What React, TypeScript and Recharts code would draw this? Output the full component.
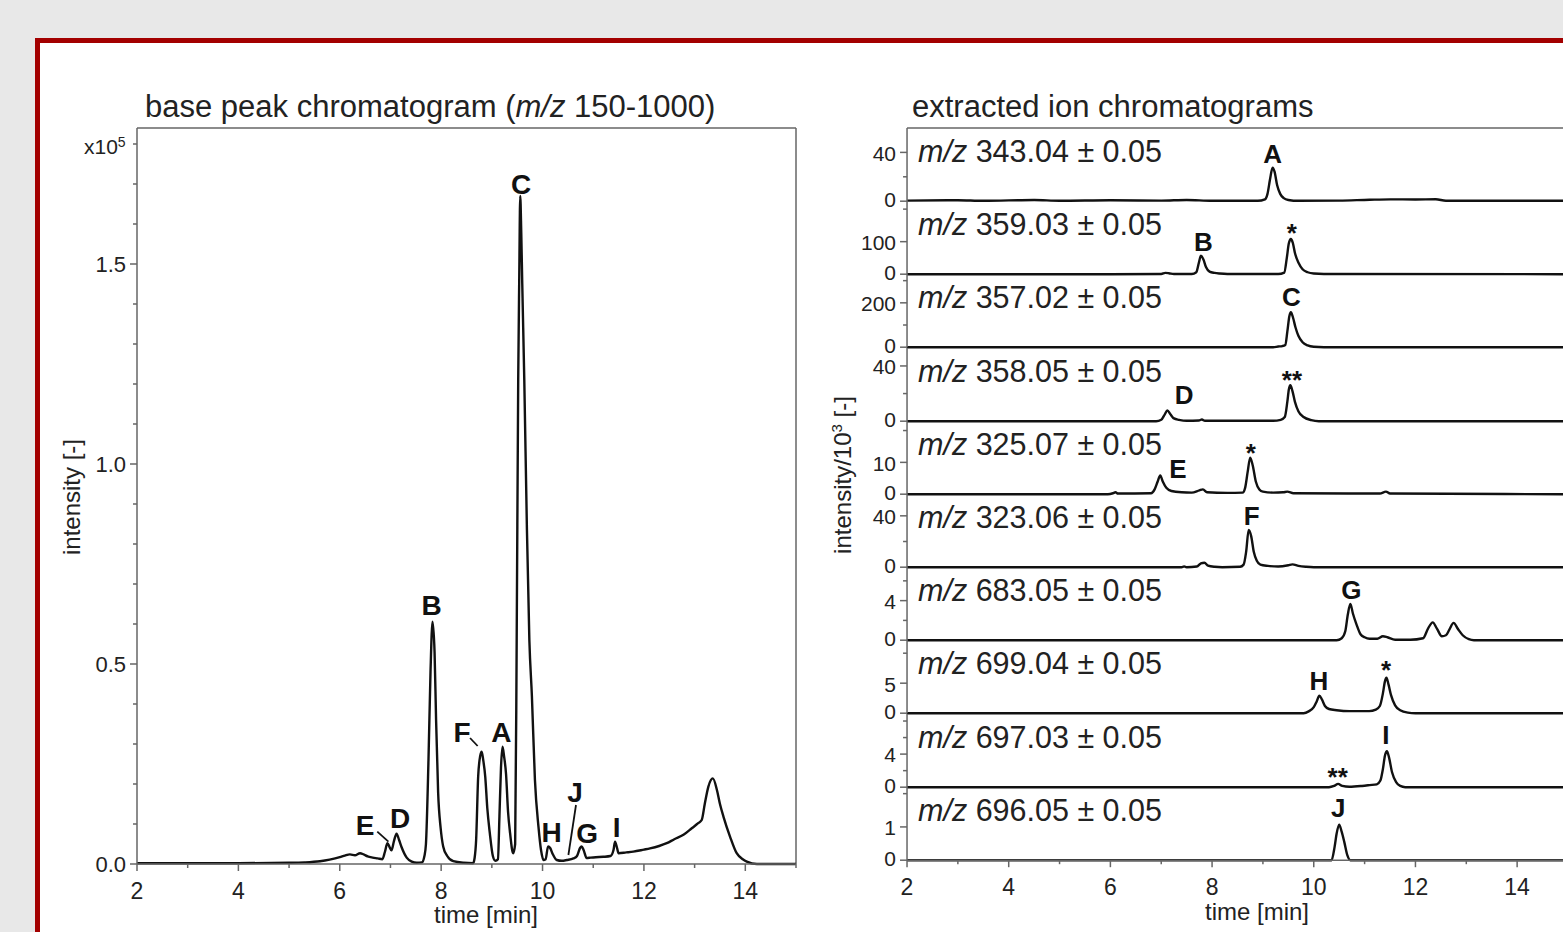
import { LineChart, Line, XAxis, YAxis, ReferenceLine, ReferenceDot } from "recharts";

const FONT = "'Liberation Sans', Arial, Helvetica, sans-serif";
const INK = "#111";
const AXIS = "#666";
const TICK = 7;
const GAP = 4;

// ---- base peak chromatogram (intensity x10^5) ----
const bpcTime = [
  2.0, 3.0, 4.0, 5.0, 5.3, 5.61, 5.8, 6.0, 6.1, 6.2, 6.3, 6.4, 6.47, 6.55, 6.65, 6.75, 6.84, 6.89, 6.94, 6.98,
  7.02, 7.07, 7.12, 7.17, 7.22, 7.32, 7.42, 7.52, 7.62, 7.67, 7.7, 7.75, 7.79, 7.83, 7.87, 7.9, 7.94, 7.99, 8.04,
  8.12, 8.24, 8.44, 8.63, 8.66, 8.69, 8.73, 8.77, 8.8, 8.83, 8.87, 8.91, 8.96, 9.02, 9.07, 9.12, 9.15, 9.18, 9.21,
  9.24, 9.28, 9.32, 9.36, 9.42, 9.46, 9.49, 9.52, 9.54, 9.56, 9.58, 9.6, 9.64, 9.69, 9.74, 9.79, 9.85, 9.92, 9.97,
  10.02, 10.06, 10.11, 10.15, 10.2, 10.28, 10.38, 10.48, 10.61, 10.68, 10.74, 10.77, 10.81, 10.87, 10.95, 11.05,
  11.2, 11.34, 11.4, 11.43, 11.47, 11.5, 11.65, 11.79, 12.0, 12.12, 12.3, 12.45, 12.6, 12.78, 12.95, 13.07, 13.14,
  13.2, 13.27, 13.36, 13.44, 13.5, 13.57, 13.7, 13.83, 13.95, 14.03, 14.23, 15.0,
];
const bpcIntensity = [
  0.002, 0.002, 0.002, 0.003, 0.004, 0.007, 0.011, 0.017, 0.021, 0.024, 0.022, 0.027, 0.024, 0.019, 0.016, 0.014,
  0.012, 0.03, 0.052, 0.043, 0.034, 0.058, 0.076, 0.06, 0.042, 0.016, 0.006, 0.003, 0.004, 0.02, 0.05, 0.26, 0.48,
  0.606, 0.53, 0.36, 0.18, 0.09, 0.044, 0.02, 0.007, 0.003, 0.002, 0.015, 0.06, 0.218, 0.27, 0.281, 0.26, 0.218,
  0.14, 0.077, 0.02, 0.008, 0.012, 0.12, 0.24, 0.293, 0.27, 0.225, 0.13, 0.077, 0.027, 0.05, 0.56, 1.21, 1.46, 1.67,
  1.58, 1.45, 1.21, 0.85, 0.56, 0.42, 0.21, 0.093, 0.035, 0.01, 0.012, 0.044, 0.04, 0.025, 0.01, 0.008, 0.01,
  0.014, 0.02, 0.04, 0.044, 0.035, 0.015, 0.016, 0.017, 0.018, 0.02, 0.035, 0.056, 0.04, 0.027, 0.029, 0.031,
  0.036, 0.039, 0.045, 0.052, 0.062, 0.073, 0.09, 0.102, 0.11, 0.15, 0.193, 0.214, 0.185, 0.15, 0.118, 0.068,
  0.027, 0.012, 0.006, 0.0, 0.0,
];
const bpcYTicks = [0, 0.1, 0.2, 0.3, 0.4, 0.5, 0.6, 0.7, 0.8, 0.9, 1.0, 1.1, 1.2, 1.3, 1.4, 1.5, 1.6, 1.7, 1.8];
const bpcYLabels = [0, 0.5, 1.0, 1.5];
const bpcPeakName = ["C", "B", "F", "A", "E", "D", "H", "J", "G", "I"];
const bpcPeakTime = [9.575, 7.81, 8.41, 9.19, 6.5, 7.19, 10.18, 10.64, 10.88, 11.46];
const bpcPeakLevel = [1.675, 0.6225, 0.306, 0.306, 0.0725, 0.089, 0.056, 0.156, 0.052, 0.068];
const bpcLeaderFrom = [[8.57, 0.315], [6.74, 0.081], [10.66, 0.1475]];
const bpcLeaderTo = [[8.72, 0.295], [6.96, 0.056], [10.51, 0.0225]];

const timeTicks = [2, 3, 4, 5, 6, 7, 8, 9, 10, 11, 12, 13, 14, 15];
const timeLabels = [2, 4, 6, 8, 10, 12, 14];

// ---- extracted ion chromatograms (intensity / 10^3) ----
const eicMass = ["343.04", "359.03", "357.02", "358.05", "325.07", "323.06", "683.05", "699.04", "697.03", "696.05"];
const eicTop = [60, 225, 330, 53, 23, 57, 7.4, 12.2, 8.85, 2.2];
const eicTicks = [[0, 20, 40], [0, 100, 200], [0, 100, 200, 300], [0, 20, 40], [0, 10, 20], [0, 20, 40], [0, 2, 4, 6], [0, 5, 10], [0, 2, 4, 6, 8], [0, 1, 2]];
const eicTickLabels = [[0, 40], [0, 100], [0, 200], [0, 40], [0, 10], [0, 40], [0, 4], [0, 5], [0, 4], [0, 1]];

const eic343Time = [2, 3, 3.5, 4.5, 5, 6, 7, 7.5, 8, 8.9, 9.04, 9.09, 9.14, 9.19, 9.23, 9.28, 9.34, 9.41, 9.5, 9.7, 10.5, 11.1, 11.5, 12, 12.4, 12.6, 15];
const eic343Value = [0.5, 0.8, 0.3, 1, 0.4, 0.8, 0.5, 1, 0.3, 0.3, 1.5, 6, 18, 27.5, 24, 13, 6, 2.5, 1, 0.3, 0.5, 1.2, 1.5, 1.4, 1.6, 0.4, 0.3];
const eic359Time = [2, 6, 7.0, 7.08, 7.15, 7.25, 7.6, 7.69, 7.74, 7.78, 7.83, 7.88, 7.95, 8.05, 8.15, 8.3, 9.3, 9.42, 9.47, 9.51, 9.55, 9.59, 9.63, 9.7, 9.78, 9.88, 10.0, 10.2, 15];
const eic359Value = [0, 0, 0.5, 4, 3, 0.5, 0.5, 6, 35, 57, 45, 22, 8, 4, 2, 0.5, 0.5, 5, 50, 95, 108, 95, 65, 35, 15, 6, 2, 0.5, 0];
const eic357Time = [2, 9.2, 9.3, 9.38, 9.44, 9.48, 9.52, 9.55, 9.59, 9.64, 9.7, 9.78, 9.88, 10.0, 10.2, 15];
const eic357Value = [0, 0, 3, 5, 10, 70, 140, 158, 135, 90, 50, 22, 8, 2, 0, 0];
const eic358Time = [2, 6.9, 7.0, 7.07, 7.12, 7.18, 7.25, 7.35, 7.5, 7.74, 7.8, 7.86, 9.2, 9.35, 9.43, 9.48, 9.51, 9.54, 9.58, 9.63, 9.7, 9.8, 9.95, 10.1, 15];
const eic358Value = [0, 0, 1, 5, 7.8, 5, 2, 1, 0.3, 0.5, 1.2, 0.3, 0.3, 1, 3, 14, 23, 26, 22, 14, 7, 3, 0.8, 0, 0];
const eic325Time = [2, 5.95, 6.05, 6.1, 6.15, 6.8, 6.87, 6.93, 6.98, 7.03, 7.1, 7.2, 7.4, 7.6, 7.75, 7.82, 7.9, 8.3, 8.6, 8.65, 8.7, 8.75, 8.8, 8.86, 8.93, 9.0, 9.2, 9.4, 9.48, 9.6, 11.3, 11.42, 11.5, 15];
const eic325Value = [0, 0, 0.3, 0.6, 0.2, 0.3, 1.5, 4, 5.9, 4, 2, 1, 0.6, 0.5, 1.2, 1.5, 0.6, 0.4, 0.5, 2, 7, 11.5, 9, 4, 1.5, 0.8, 0.5, 0.6, 0.8, 0.3, 0.2, 0.8, 0.2, 0];
const eic323Time = [2, 7.4, 7.45, 7.5, 7.7, 7.78, 7.85, 7.92, 8.05, 8.2, 8.55, 8.62, 8.67, 8.72, 8.77, 8.82, 8.88, 8.95, 9.1, 9.3, 9.5, 9.58, 9.7, 9.85, 10, 15];
const eic323Value = [0, 0, 0.6, 0, 0.5, 3, 3.5, 1.2, 0.3, 0, 0.3, 2, 12, 29, 24, 12, 5, 2, 1, 0.5, 1.5, 2.2, 1, 0.3, 0, 0];
const eic683Time = [2, 10.45, 10.55, 10.62, 10.67, 10.72, 10.77, 10.84, 10.92, 11.0, 11.1, 11.25, 11.36, 11.45, 11.6, 11.9, 12.15, 12.25, 12.34, 12.42, 12.52, 12.6, 12.67, 12.75, 12.84, 12.93, 13.05, 13.15, 15];
const eic683Value = [0, 0, 0.2, 0.9, 2.6, 3.67, 2.7, 1.6, 0.6, 0.3, 0.15, 0.15, 0.4, 0.3, 0.05, 0.05, 0.2, 1.2, 1.8, 1.2, 0.4, 0.5, 1.1, 1.75, 1.1, 0.5, 0.1, 0, 0];
const eic699Time = [2, 9.8, 9.9, 10.0, 10.06, 10.11, 10.16, 10.22, 10.3, 10.45, 10.7, 11.09, 11.22, 11.3, 11.36, 11.4, 11.43, 11.47, 11.52, 11.6, 11.7, 11.85, 12, 15];
const eic699Value = [0, 0, 0.3, 1, 2, 2.9, 2.3, 1.2, 0.7, 0.5, 0.35, 0.35, 0.6, 1.2, 3.3, 5.3, 5.9, 4.8, 3, 1.3, 0.5, 0.1, 0, 0];
const eic697Time = [2, 10.3, 10.4, 10.48, 10.56, 10.7, 10.95, 11.1, 11.24, 11.31, 11.36, 11.4, 11.44, 11.48, 11.54, 11.62, 11.7, 11.8, 15];
const eic697Value = [0, 0, 0.15, 0.4, 0.15, 0.05, 0.15, 0.25, 0.35, 0.8, 2.2, 3.8, 4.35, 3.6, 1.8, 0.6, 0.15, 0, 0];
const eic696Time = [2, 10.35, 10.41, 10.45, 10.5, 10.55, 10.6, 10.66, 10.72, 15];
const eic696Value = [0, 0, 0.4, 0.8, 1.07, 0.85, 0.55, 0.15, 0, 0];

// peak marks in the EIC panels: panel index, text, time, level
const eicMarkPanel = [0, 1, 1, 2, 3, 3, 4, 4, 5, 6, 7, 7, 8, 8, 9];
const eicMarkText = ["A", "B", "*", "C", "D", "**", "E", "*", "F", "G", "H", "*", "I", "**", "J"];
const eicMarkTime = [9.19, 7.83, 9.57, 9.56, 7.45, 9.57, 7.33, 8.76, 8.78, 10.74, 10.1, 11.42, 11.42, 10.47, 10.48];
const eicMarkLevel = [31, 71, 100, 186, 12.2, 23.5, 5, 10.1, 32.8, 4.18, 3.83, 5.73, 5.2, 0.17, 1.29];

const eicTimes = [eic343Time, eic359Time, eic357Time, eic358Time, eic325Time, eic323Time, eic683Time, eic699Time, eic697Time, eic696Time];
const eicValues = [eic343Value, eic359Value, eic357Value, eic358Value, eic325Value, eic323Value, eic683Value, eic699Value, eic697Value, eic696Value];

const PANEL_TOP = 128;
const PANEL_H = 73.2;
const PAD = 16;

function YTick(props: any) {
  const { x, y, payload, labels, digits, size, stacked } = props;
  const major = labels.some((l: number) => Math.abs(l - payload.value) < 1e-9);
  const ax = x + GAP + TICK;
  // in the stacked panels the zero label sits a little high, the top label a little low
  const nudge = stacked ? (payload.value === 0 ? -2 : 1) : 0;
  return (
    <g>
      <line x1={ax - (major ? TICK : 4)} x2={ax} y1={y} y2={y} stroke={AXIS} strokeWidth={1.5} />
      {major && (
        <text x={x} y={y + size * 0.35 + nudge} textAnchor="end" fontSize={size} fill="#222" fontFamily={FONT}>
          {payload.value.toFixed(digits)}
        </text>
      )}
    </g>
  );
}

function XTick(props: any) {
  const { x, y, payload } = props;
  const major = timeLabels.includes(payload.value);
  const ay = y - GAP - TICK;
  return (
    <g>
      <line x1={x} x2={x} y1={ay} y2={ay + (major ? TICK : 4)} stroke={AXIS} strokeWidth={1.5} />
      {major && (
        <text x={x} y={ay + 35} textAnchor="middle" fontSize={23} fill="#222" fontFamily={FONT}>
          {payload.value}
        </text>
      )}
    </g>
  );
}

function mark(text: string, size: number) {
  return (p: any) => (
    <text x={p.cx} y={p.cy} textAnchor="middle" fontSize={size} fontWeight="bold" fill={INK} fontFamily={FONT}>
      {text}
    </text>
  );
}

function BasePeakChart() {
  const data = bpcTime.map((t, i) => ({ t, v: bpcIntensity[i] }));
  return (
    <div style={{ position: "absolute", left: 0, top: 0 }}>
      <LineChart width={800} height={932} data={data} margin={{ top: 128, right: 4, bottom: 28, left: 77 }}>
        <XAxis
          dataKey="t"
          type="number"
          domain={[2, 15]}
          ticks={timeTicks}
          interval={0}
          height={40}
          stroke={AXIS}
          strokeWidth={1.5}
          tickSize={TICK}
          tickMargin={GAP}
          tickLine={false}
          tick={(p: any) => <XTick {...p} />}
        />
        <YAxis
          type="number"
          domain={[0, 1.84]}
          ticks={bpcYTicks}
          interval={0}
          width={60}
          stroke={AXIS}
          strokeWidth={1.5}
          tickSize={TICK}
          tickMargin={GAP}
          tickLine={false}
          tick={(p: any) => <YTick {...p} labels={bpcYLabels} digits={1} size={22} />}
        />
        <ReferenceLine y={1.84} stroke={AXIS} strokeWidth={1.5} />
        <ReferenceLine x={15} stroke={AXIS} strokeWidth={1.5} />
        <Line dataKey="v" type="monotone" stroke={INK} strokeWidth={2.4} dot={false} isAnimationActive={false} />
        {bpcLeaderFrom.map((a, i) => (
          <ReferenceLine
            key={"l" + i}
            segment={[{ x: a[0], y: a[1] }, { x: bpcLeaderTo[i][0], y: bpcLeaderTo[i][1] }]}
            stroke={INK}
            strokeWidth={1.8}
            ifOverflow="visible"
          />
        ))}
        {bpcPeakName.map((n, i) => (
          <ReferenceDot key={n} x={bpcPeakTime[i]} y={bpcPeakLevel[i]} r={0} ifOverflow="visible" shape={mark(n, 28)} />
        ))}
      </LineChart>
    </div>
  );
}

function IonPanel({ k }: { k: number }) {
  const last = k === eicMass.length - 1;
  const top = PANEL_TOP + k * PANEL_H - PAD;
  const h = PANEL_H + PAD + (last ? 72 : PAD);
  const data = eicTimes[k].map((t, i) => ({ t, v: eicValues[k][i] }));
  return (
    <div style={{ position: "absolute", left: 847, top, width: 723, height: h }}>
      <LineChart width={723} height={h} data={data} margin={{ top: PAD, right: 2, bottom: last ? 32 : PAD, left: 0 }}>
        <XAxis
          dataKey="t"
          type="number"
          domain={[2, 15]}
          ticks={timeTicks}
          interval={0}
          height={40}
          hide={!last}
          stroke={AXIS}
          strokeWidth={1.5}
          tickSize={TICK}
          tickMargin={GAP}
          tickLine={false}
          tick={(p: any) => <XTick {...p} />}
        />
        <YAxis
          type="number"
          domain={[0, eicTop[k]]}
          ticks={eicTicks[k]}
          interval={0}
          width={60}
          stroke={AXIS}
          strokeWidth={1.5}
          tickSize={TICK}
          tickMargin={GAP}
          tickLine={false}
          tick={(p: any) => <YTick {...p} labels={eicTickLabels[k]} digits={0} size={21} stacked />}
        />
        {k === 0 && <ReferenceLine y={eicTop[0]} stroke={AXIS} strokeWidth={1.5} />}
        <Line dataKey="v" type="monotone" stroke={INK} strokeWidth={2.4} dot={false} isAnimationActive={false} />
        {eicMarkText.map((s, i) =>
          eicMarkPanel[i] === k ? (
            <ReferenceDot key={i} x={eicMarkTime[i]} y={eicMarkLevel[i]} r={0} ifOverflow="visible" shape={mark(s, 26)} />
          ) : null
        )}
      </LineChart>
    </div>
  );
}

export default function App() {
  return (
    <div
      style={{
        position: "absolute",
        left: 0,
        top: 0,
        width: 1563,
        height: 932,
        overflow: "hidden",
        background: "#e8e8e8",
      }}
    >
      <div
        style={{
          position: "absolute",
          left: 35,
          top: 38,
          width: 1600,
          height: 1000,
          border: "5px solid #a30000",
          boxSizing: "border-box",
          background: "#fff",
        }}
      />
      <BasePeakChart />
      {eicMass.map((_, k) => (
        <IonPanel key={k} k={k} />
      ))}
      <svg
        width={1563}
        height={932}
        style={{ position: "absolute", left: 0, top: 0, pointerEvents: "none" }}
        fontFamily={FONT}
        fill="#222"
      >
        <text x={145} y={117} fontSize={31}>
          base peak chromatogram (<tspan fontStyle="italic">m/z</tspan> 150-1000)
        </text>
        <text x={912} y={117} fontSize={31}>
          extracted ion chromatograms
        </text>
        <text x={84} y={154} fontSize={21}>
          x10<tspan dy={-7} fontSize={14}>5</tspan>
        </text>
        <text x={80} y={497} fontSize={24} textAnchor="middle" transform="rotate(-90 80 497)">
          intensity [-]
        </text>
        <text x={851} y={475} fontSize={24} textAnchor="middle" transform="rotate(-90 851 475)">
          intensity/10<tspan dy={-9} fontSize={15}>3</tspan>
          <tspan dy={9}> [-]</tspan>
        </text>
        <text x={486} y={923} fontSize={24} textAnchor="middle">
          time [min]
        </text>
        <text x={1257} y={920} fontSize={24} textAnchor="middle">
          time [min]
        </text>
        {eicMass.map((m, k) => (
          <text key={m} x={918} y={PANEL_TOP + k * PANEL_H + 34} fontSize={30.5}>
            <tspan fontStyle="italic">m/z</tspan> {m} ± 0.05
          </text>
        ))}
      </svg>
    </div>
  );
}
